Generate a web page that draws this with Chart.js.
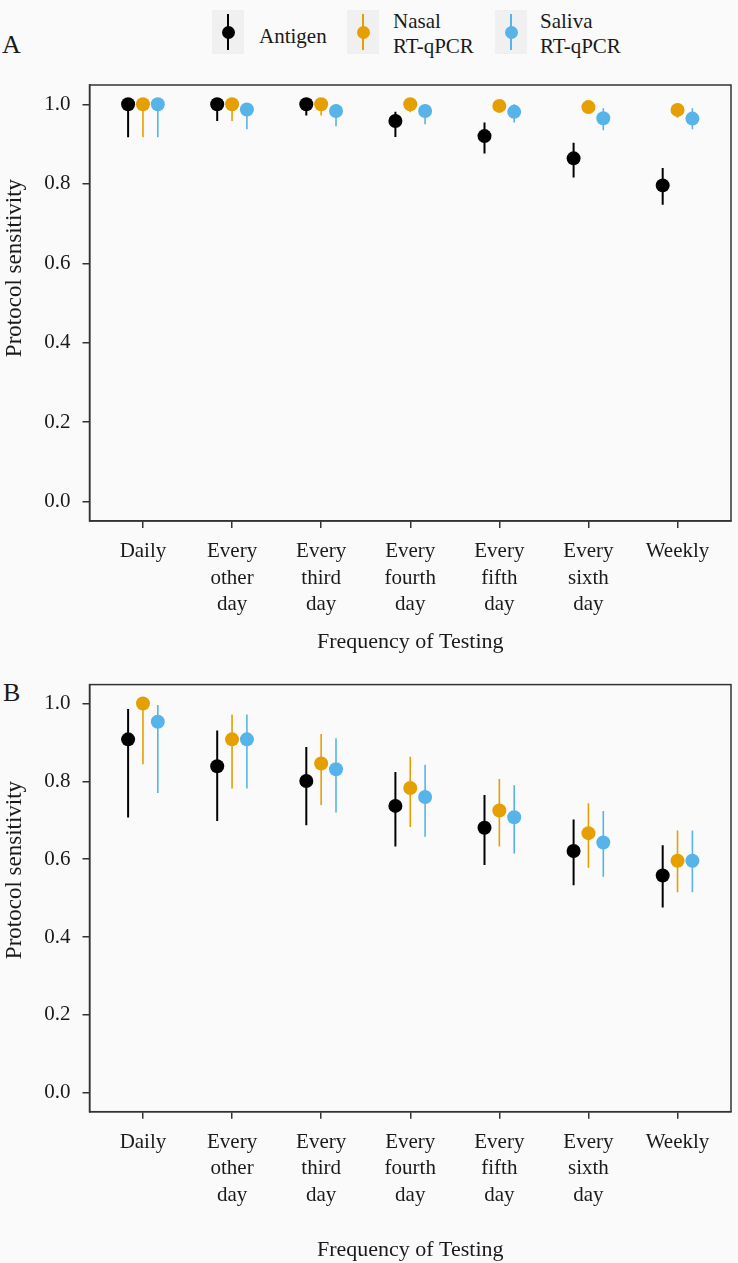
<!DOCTYPE html>
<html>
<head>
<meta charset="utf-8">
<script src="https://cdn.jsdelivr.net/npm/chart.js@4/dist/chart.umd.min.js"></script>
<style>
  body { margin: 0; background: #fafafa; font-family: "Liberation Serif", serif; color: #1a1a1a; }
  #page { position: relative; width: 738px; height: 1263px; overflow: hidden; }
  .panel { position: absolute; left: 0; width: 738px; }
  .tag { position: absolute; font-size: 26px; line-height: 26px; }
  .ytitle { position: absolute; left: 14px; width: 300px; margin-left: -150px; text-align: center;
            font-size: 23px; line-height: 26px; transform: translateY(-13px) rotate(-90deg); z-index: 2; }
  .key { position: absolute; top: 10px; width: 32px; height: 44px; background: #f0f0f0; }
  .key .bar { position: absolute; left: 15px; top: 4px; width: 2px; height: 36px; }
  .key .dot { position: absolute; left: 9.5px; top: 16px; width: 13px; height: 13px; border-radius: 50%; }
  .ktext { position: absolute; font-size: 21px; line-height: 25px; }
</style>
</head>
<body>
<div id="page">
  <div class="tag" style="left:2px; top:32px;">A</div>
  <div class="tag" style="left:3px; top:680px;">B</div>

  <!-- legend -->
  <div class="key" style="left:212px;"><div class="bar" style="background:#000"></div><div class="dot" style="background:#000"></div></div>
  <div class="ktext" style="left:259px; top:24px;">Antigen</div>
  <div class="key" style="left:347px;"><div class="bar" style="background:#E69F00;width:1.6px"></div><div class="dot" style="background:#E69F00"></div></div>
  <div class="ktext" style="left:393px; top:9px;">Nasal<br>RT-qPCR</div>
  <div class="key" style="left:495px;"><div class="bar" style="background:#56B4E9;width:1.6px"></div><div class="dot" style="background:#56B4E9"></div></div>
  <div class="ktext" style="left:540px; top:9px;">Saliva<br>RT-qPCR</div>

  <div class="panel" style="top:0; height:660px;"><canvas id="chartA"></canvas></div>
  <div class="panel" style="top:660px; height:603px;"><canvas id="chartB"></canvas></div>

  <div class="ytitle" style="top:268px;">Protocol sensitivity</div>
  <div class="ytitle" style="top:870px;">Protocol sensitivity</div>
</div>

<script>
// Categories (x axis)
const categories = [
  "Daily",
  ["Every", "other", "day"],
  ["Every", "third", "day"],
  ["Every", "fourth", "day"],
  ["Every", "fifth", "day"],
  ["Every", "sixth", "day"],
  "Weekly"
];
const yTicks = [0, 0.2, 0.4, 0.6, 0.8, 1.0];

// Panel A
const antigenA   = [1.0, 1.0, 1.0, 0.958, 0.920, 0.864, 0.796];
const antigenALo = [0.917, 0.958, 0.972, 0.918, 0.876, 0.816, 0.747];
const antigenAHi = [1.0, 1.0, 1.0, 0.981, 0.954, 0.903, 0.840];
const nasalA     = [1.0, 1.0, 1.0, 1.0, 0.996, 0.993, 0.986];
const nasalALo   = [0.917, 0.958, 0.972, 0.980, 0.980, 0.980, 0.966];
const nasalAHi   = [1.0, 1.0, 1.0, 1.0, 1.0, 1.0, 1.0];
const salivaA    = [1.0, 0.987, 0.983, 0.983, 0.981, 0.965, 0.964];
const salivaALo  = [0.917, 0.937, 0.945, 0.950, 0.954, 0.935, 0.937];
const salivaAHi  = [1.0, 1.0, 1.0, 1.0, 1.0, 0.990, 0.990];

// Panel B
const antigenB   = [0.908, 0.839, 0.801, 0.737, 0.681, 0.621, 0.558];
const antigenBLo = [0.707, 0.698, 0.687, 0.633, 0.585, 0.533, 0.476];
const antigenBHi = [0.986, 0.931, 0.888, 0.824, 0.765, 0.702, 0.636];
const nasalB     = [1.0, 0.908, 0.846, 0.783, 0.725, 0.667, 0.596];
const nasalBLo   = [0.844, 0.782, 0.739, 0.683, 0.633, 0.578, 0.515];
const nasalBHi   = [1.0, 0.972, 0.922, 0.863, 0.806, 0.744, 0.674];
const salivaB    = [0.953, 0.908, 0.831, 0.760, 0.708, 0.643, 0.596];
const salivaBLo  = [0.770, 0.782, 0.720, 0.658, 0.615, 0.555, 0.515];
const salivaBHi  = [0.996, 0.972, 0.911, 0.843, 0.790, 0.724, 0.674];

const dodge = 1 / 6; // horizontal shift of each test type within a category
const FONT = "'Liberation Serif', serif";
const INK = "#1a1a1a";
const AXIS = "#333333";

function pointData(vals, shift) {
  return vals.map((v, i) => ({ x: i + shift, y: v }));
}

// vertical interval lines: two points per category, broken by a null
function barData(lo, hi, shift) {
  const out = [];
  lo.forEach((l, i) => {
    out.push({ x: i + shift, y: l }, { x: i + shift, y: hi[i] }, { x: i + shift, y: null });
  });
  return out;
}

function series(vals, lo, hi, shift, color, width) {
  return [
    { data: barData(lo, hi, shift), showLine: true, spanGaps: false, borderColor: color,
      borderWidth: width, pointRadius: 0, order: 2 },
    { data: pointData(vals, shift), backgroundColor: color, borderWidth: 0,
      pointRadius: 7, pointHoverRadius: 7, order: 1 }
  ];
}

// box around the plotting area
const framePlugin = {
  id: "frame",
  afterDraw(chart) {
    const { ctx, chartArea: a } = chart;
    ctx.save();
    ctx.strokeStyle = AXIS;
    ctx.lineWidth = 1.5;
    ctx.strokeRect(a.left, a.top, a.right - a.left, a.bottom - a.top);
    ctx.restore();
  }
};

function makeChart(id, sets, padTop, xHeight, titlePad) {
  return new Chart(document.getElementById(id), {
    type: "scatter",
    data: { datasets: [
      ...series(sets[0], sets[1], sets[2], -dodge, "#000000", 2),
      ...series(sets[3], sets[4], sets[5], 0, "#E69F00", 1.6),
      ...series(sets[6], sets[7], sets[8], dodge, "#56B4E9", 1.6)
    ] },
    options: {
      responsive: true,
      maintainAspectRatio: false,
      animation: false,
      layout: { padding: { top: padTop, right: 1, left: 0, bottom: 0 } },
      plugins: { legend: { display: false }, tooltip: { enabled: false } },
      scales: {
        x: {
          type: "linear", min: -0.6, max: 6.6,
          afterBuildTicks: s => { s.ticks = categories.map((c, i) => ({ value: i })); },
          afterFit: s => { s.height = xHeight; },
          border: { display: true, color: AXIS, width: 1.5 },
          grid: { drawOnChartArea: false, drawTicks: true, tickLength: 7, color: AXIS, lineWidth: 1.5 },
          ticks: { color: INK, padding: 10, maxRotation: 0, autoSkip: false,
                   font: { family: FONT, size: 21, lineHeight: 1.27 },
                   callback: v => categories[v] },
          title: { display: true, text: "Frequency of Testing", color: INK,
                   font: { family: FONT, size: 22, lineHeight: 1.2 },
                   padding: { top: 0, bottom: titlePad } }
        },
        y: {
          min: -0.0486, max: 1.0486,
          afterBuildTicks: s => { s.ticks = yTicks.map(v => ({ value: v })); },
          afterFit: s => { s.width = 89.5; },
          border: { display: true, color: AXIS, width: 1.5 },
          grid: { drawOnChartArea: false, drawTicks: true, tickLength: 7, color: AXIS, lineWidth: 1.5 },
          ticks: { color: INK, padding: 12, font: { family: FONT, size: 21 },
                   callback: v => v.toFixed(1) }
        }
      }
    },
    plugins: [framePlugin]
  });
}

makeChart("chartA",
  [antigenA, antigenALo, antigenAHi, nasalA, nasalALo, nasalAHi, salivaA, salivaALo, salivaAHi],
  85, 139, 5);
makeChart("chartB",
  [antigenB, antigenBLo, antigenBHi, nasalB, nasalBLo, nasalBHi, salivaB, salivaBLo, salivaBHi],
  15, 151.3, 0);
</script>
</body>
</html>
